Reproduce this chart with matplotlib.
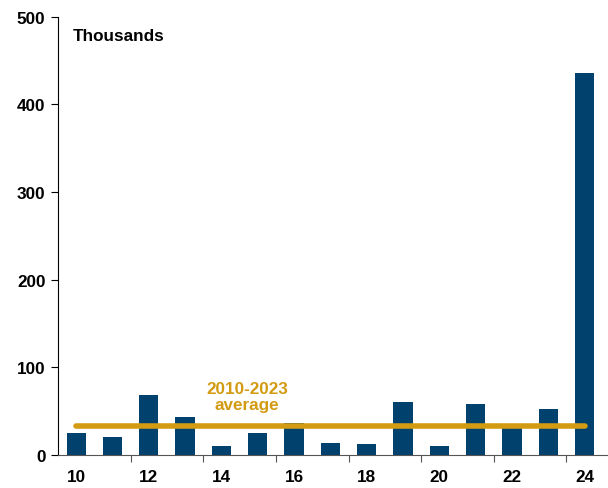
import numpy as np
import matplotlib
matplotlib.use("Agg")
from matplotlib import pyplot as plt

plt.rcParams['font.family'] = ['Liberation Sans', 'DejaVu Sans']

years = ['10', '11', '12', '13', '14', '15', '16', '17', '18', '19', '20', '21', '22', '23', '24']
values = [25, 20, 68, 43, 10, 25, 36, 14, 12, 60, 10, 58, 32, 53, 436]
avg_value = 33
avg_label = '2010-2023\naverage'

bar_color = '#00416E'
avg_color = '#D29B12'

fig = plt.figure(figsize=(6.08, 4.89), dpi=100)
ax = fig.add_axes([0.0954, 0.0675, 0.905, 0.8965])

x = np.arange(len(years))
ax.bar(x, values, width=0.53, color=bar_color, zorder=2)
ax.plot([x[0], x[-1]], [avg_value, avg_value], color=avg_color, lw=4, solid_capstyle='round', zorder=3)

ax.set_ylim(0, 500)
ax.set_xlim(-0.5, 14.65)
ax.set_yticks(range(0, 501, 100))
ax.set_yticklabels([str(v) for v in range(0, 501, 100)], fontsize=12.3, fontweight='bold')

# tick marks at category boundaries, labels at every other category
ax.set_xticks(np.arange(1.5, 14, 2))
ax.set_xticklabels([])
ax.set_xticks(x[::2], minor=True)
ax.set_xticklabels(years[::2], minor=True, fontsize=12.3, fontweight='bold')
ax.tick_params(axis='x', which='minor', length=0, pad=10)
ax.tick_params(axis='x', which='major', length=5, direction='out', color='#555555')
ax.tick_params(axis='y', length=5, direction='out', pad=4)

for s in ['top', 'right']:
    ax.spines[s].set_visible(False)
ax.spines['bottom'].set_color('#555555')

ax.text(0.026, 0.975, 'Thousands', transform=ax.transAxes, fontsize=12.3, fontweight='bold', va='top', ha='left')
ax.text(4.7, 49, avg_label, color=avg_color, fontsize=12.3, fontweight='bold', ha='center', va='bottom',
        linespacing=1.1)

fig.savefig('out.png', dpi=100)
